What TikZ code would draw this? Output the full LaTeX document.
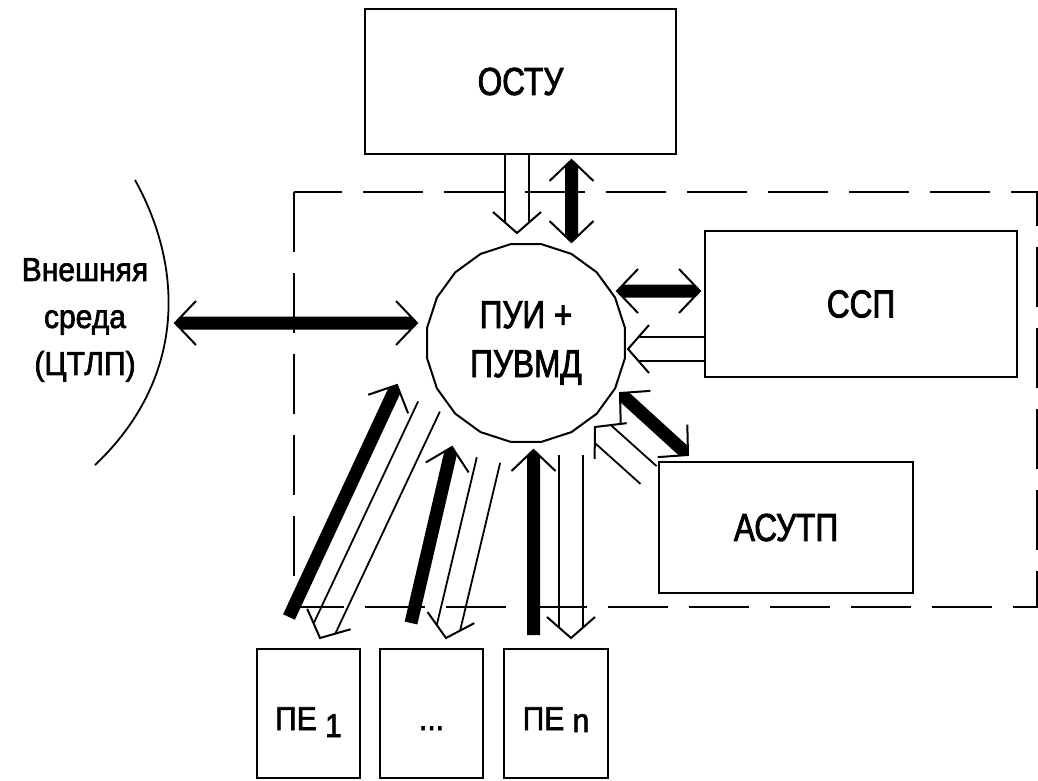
\documentclass[tikz,border=0pt]{standalone}
\usepackage{fontspec}
\setmainfont{Liberation Sans}[FakeStretch=0.81,FakeBold=2]
\newfontfamily\smallfnt{Liberation Sans}[FakeStretch=0.91,FakeBold=2]
\usetikzlibrary{calc,shapes.geometric}

% open chevron head: [half width] tip, point behind
\newcommand\BarbHead[3][22]{%
  \draw[barbline] ($(#2)!21pt!(#3)!#1pt!90:(#3)$) -- (#2) -- ($(#2)!21pt!(#3)!#1pt!-90:(#3)$);}
% black shaft, square tail #1, pointed at #2
\newcommand\ShaftOne[2]{%
  \fill ($(#1)!6.5pt!90:(#2)$) -- ($(#2)!7pt!(#1)!6.5pt!-90:(#1)$) -- (#2)
    -- ($(#2)!7pt!(#1)!6.5pt!90:(#1)$) -- ($(#1)!6.5pt!-90:(#2)$) -- cycle;}
% black shaft pointed at both ends
\newcommand\ShaftTwo[2]{%
  \fill (#1) -- ($(#1)!7pt!(#2)!6.5pt!90:(#2)$) -- ($(#2)!7pt!(#1)!6.5pt!-90:(#1)$) -- (#2)
    -- ($(#2)!7pt!(#1)!6.5pt!90:(#1)$) -- ($(#1)!7pt!(#2)!6.5pt!-90:(#2)$) -- cycle;}
\newcommand\ThickOne[2]{\ShaftOne{#1}{#2}\BarbHead{#2}{#1}}
\newcommand\ThickTwo[2]{\ShaftTwo{#1}{#2}\BarbHead{#1}{#2}\BarbHead{#2}{#1}}
% hollow (double line) arrow from #1 to tip #2
\newcommand\HollowArr[2]{%
  \draw[thinline] ($(#1)!12pt!90:(#2)$) -- ($(#2)!10.5pt!(#1)!12pt!-90:(#1)$);
  \draw[thinline] ($(#1)!12pt!-90:(#2)$) -- ($(#2)!10.5pt!(#1)!12pt!90:(#1)$);
  \BarbHead[24]{#2}{#1}}

\begin{document}
\begin{tikzpicture}[x=1pt,y=-1pt,
  box/.style={draw, line width=2pt, rectangle, inner sep=0pt},
  bigtext/.style={font=\fontsize{39pt}{49pt}\selectfont},
  smalltext/.style={font=\smallfnt\fontsize{33pt}{47pt}\selectfont},
  barbline/.style={line width=2pt, line join=miter},
  thinline/.style={line width=1.8pt},
  frame/.style={line width=2pt, dash pattern=on 60pt off 21pt},
]
\useasboundingbox (0,0) rectangle (1038,780);
\fill[white] (0,0) rectangle (1038,780);

% dashed system boundary
\draw[frame] (294,192) rectangle (1037,607);

% external environment
\draw[line width=1.8pt] (135,180) .. controls (185,270) and (185,380) .. (95,465);
\node[smalltext, align=center] (env) at (85,320) {Внешняя\\среда\\(ЦТЛП)};

% blocks
\node[box, bigtext, minimum width=311pt, minimum height=145pt] (ostu) at (520.5,81.5) {ОСТУ};
\node[box, bigtext, minimum width=312pt, minimum height=146pt] (ssp) at (861,304) {ССП};
\node[box, bigtext, minimum width=254pt, minimum height=131pt] (asutp) at (786,527.5) {АСУТП};
\node[draw, line width=2pt, regular polygon, regular polygon sides=20, minimum size=200pt,
      inner sep=0pt, bigtext, align=center] (pu) at (526,343) {ПУИ +\\ПУВМД};
\node[box, smalltext, minimum width=103pt, minimum height=129pt] (pe1) at (308.5,713.5)
  {\raisebox{-16.5pt}[0pt][0pt]{ПЕ \raisebox{-7pt}{1}}};
\node[box, smalltext, minimum width=103pt, minimum height=129pt] (pe2) at (431.5,713.5)
  {\raisebox{-16.5pt}[0pt][0pt]{...}};
\node[box, smalltext, minimum width=104pt, minimum height=129pt] (pen) at (556,713.5)
  {\raisebox{-16.5pt}[0pt][0pt]{ПЕ \raisebox{-2pt}{n}}};

% connector end points
\coordinate (l1) at (175,323);   \coordinate (l2) at (417,323);
\coordinate (t1) at (517,154);   \coordinate (t2) at (517,233);
\coordinate (t3) at (571.5,160); \coordinate (t4) at (571.5,242);
\coordinate (s1) at (617,291);   \coordinate (s2) at (700,291);
\coordinate (s3) at (705,349);   \coordinate (s4) at (628,349);
\coordinate (a1) at (620,393);   \coordinate (a2) at (688,455);
\coordinate (a3) at (648.5,475); \coordinate (a4) at (595,427);
\coordinate (b1) at (289,617);   \coordinate (b2) at (397,385);
\coordinate (b3) at (429,406.5); \coordinate (b4) at (320,638);
\coordinate (c1) at (411,623);   \coordinate (c2) at (452,447);
\coordinate (c3) at (488.5,460); \coordinate (c4) at (446,638);
\coordinate (d1) at (533.5,635); \coordinate (d2) at (533.5,450);
\coordinate (d3) at (571,455);   \coordinate (d4) at (571,638);

% connectors
\ThickTwo{l1}{l2}
\HollowArr{t1}{t2}
\ThickTwo{t3}{t4}
\ThickTwo{s1}{s2}
\HollowArr{s3}{s4}
\ThickTwo{a1}{a2}
\HollowArr{a3}{a4}
\ThickOne{b1}{b2}
\HollowArr{b3}{b4}
\ThickOne{c1}{c2}
\HollowArr{c3}{c4}
\ThickOne{d1}{d2}
\HollowArr{d3}{d4}
\end{tikzpicture}
\end{document}
